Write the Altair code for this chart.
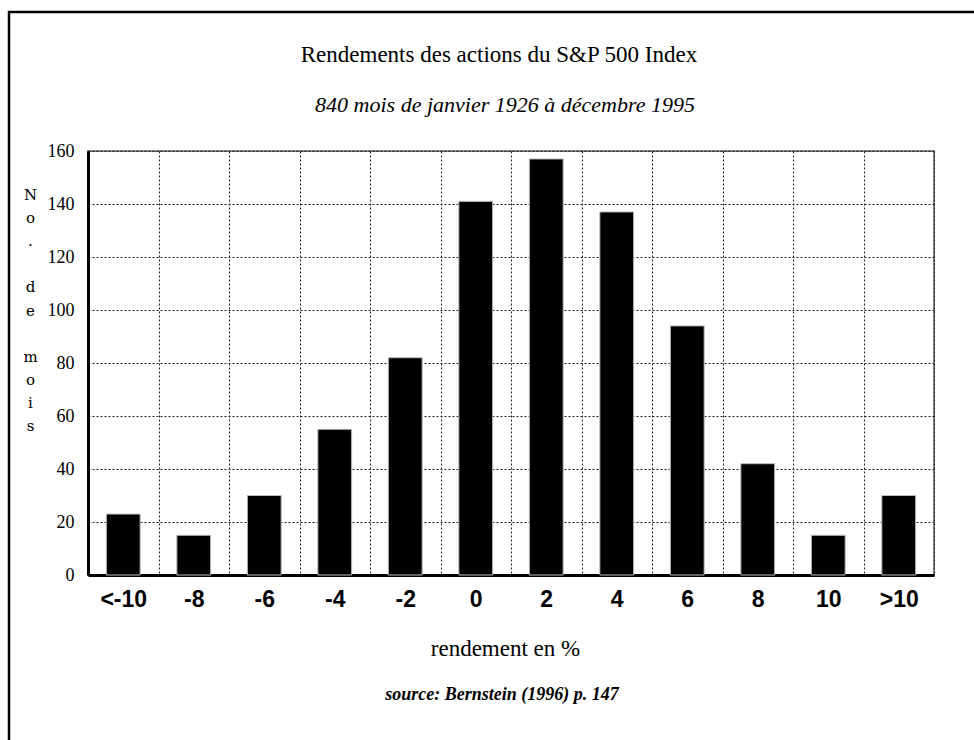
import altair as alt
import pandas as pd

categories = ["<-10", "-8", "-6", "-4", "-2", "0", "2", "4", "6", "8", "10", ">10"]
counts = [23, 15, 30, 55, 82, 141, 157, 137, 94, 42, 15, 30]
y_ticks = [0, 20, 40, 60, 80, 100, 120, 140, 160]

title_text = "Rendements des actions du S&P 500 Index"
subtitle_text = "840 mois de janvier 1926 à décembre 1995"
source_text = "source: Bernstein (1996) p. 147"
x_title = "rendement en %"
y_title_lines = ["N", "o", ".", "\u200b", "d", "e", "\u200b", "m", "o", "i", "s"]

df = pd.DataFrame({"cat": categories, "n": counts})

W, H = 846, 424

bars = alt.Chart(df).mark_bar(
    color="black", stroke="#bdbdbd", strokeWidth=1,
    width=alt.RelativeBandSize(0.48),
).encode(
    x=alt.X(
        "cat:N",
        sort=categories,
        scale=alt.Scale(paddingInner=0, paddingOuter=0),
        axis=alt.Axis(
            title=x_title,
            titleFont="Liberation Serif",
            titleFontSize=23,
            titleFontWeight="normal",
            titleColor="black",
            titleX=417,
            titleY=73,
            titleBaseline="middle",
            titleAlign="center",
            labelFont="Liberation Sans",
            labelFontWeight="bold",
            labelFontSize=23,
            labelColor="black",
            labelPadding=13,
            labelAngle=0,
            ticks=False,
            domainColor="black",
            domainWidth=3,
            grid=True,
            gridDash=[2, 2],
            gridColor="#222222",
            gridWidth=1,
            tickBand="extent",
        ),
    ),
    y=alt.Y(
        "n:Q",
        scale=alt.Scale(domain=[0, 160], nice=False),
        axis=alt.Axis(
            values=y_ticks,
            title=y_title_lines,
            titleAngle=0,
            titleFont="DejaVu Serif",
            titleFontSize=15,
            titleFontWeight="normal",
            titleColor="black",
            titleX=-58,
            titleY=36,
            titleAlign="center",
            titleBaseline="top",
            titleLineHeight=23.2,
            labelFont="Liberation Serif",
            labelFontSize=18,
            labelColor="black",
            labelPadding=14,
            ticks=False,
            domainColor="black",
            domainWidth=3,
            grid=True,
            gridDash=[2, 2],
            gridColor="#222222",
            gridWidth=1,
        ),
    ),
)

one = alt.Data(values=[{"a": 1}])

title_mark = alt.Chart(one).mark_text(
    text=title_text, font="Liberation Serif", fontSize=23, align="center",
    baseline="alphabetic", color="black"
).encode(x=alt.value(411), y=alt.value(-89))

subtitle_mark = alt.Chart(one).mark_text(
    text=subtitle_text, font="Liberation Serif", fontSize=22, fontStyle="italic",
    align="center", baseline="alphabetic", color="black"
).encode(x=alt.value(417), y=alt.value(-39))

source_mark = alt.Chart(one).mark_text(
    text=source_text, font="Liberation Serif", fontSize=18, fontStyle="italic",
    fontWeight="bold", align="center", baseline="alphabetic", color="black"
).encode(x=alt.value(414), y=alt.value(549))

frame_left = alt.Chart(one).mark_rule(color="black", strokeWidth=2.5).encode(
    x=alt.value(-79), y=alt.value(-140), y2=alt.value(600)
)
frame_top = alt.Chart(one).mark_rule(color="black", strokeWidth=2.5).encode(
    x=alt.value(-80), x2=alt.value(900), y=alt.value(-139)
)

chart = alt.layer(
    bars, title_mark, subtitle_mark, source_mark, frame_left, frame_top
).properties(
    width=W, height=H,
    autosize=alt.AutoSizeParams(type="none"),
    padding={"left": 88, "top": 151, "right": 40, "bottom": 165},
    background="white",
).configure_view(stroke="#555555", strokeWidth=1.5)

chart.save("out.html", embed_options={"renderer": "svg", "actions": False})
